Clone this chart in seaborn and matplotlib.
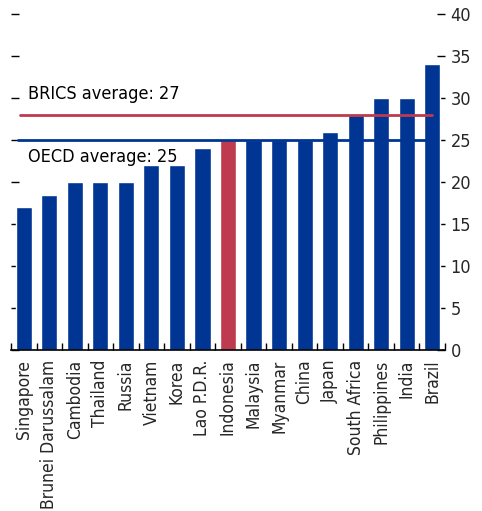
import matplotlib
matplotlib.use("Agg")
import matplotlib.pyplot as plt
import seaborn as sns
import pandas as pd

countries = ["Singapore", "Brunei Darussalam", "Cambodia", "Thailand", "Russia",
             "Vietnam", "Korea", "Lao P.D.R.", "Indonesia", "Malaysia", "Myanmar",
             "China", "Japan", "South Africa", "Philippines", "India", "Brazil"]
rates = [17, 18.5, 20, 20, 20, 22, 22, 24, 25, 25, 25, 25, 26, 28, 30, 30, 34]
highlight = "Indonesia"
brics_avg_line = 28
brics_label = "BRICS average: 27"
oecd_avg_line = 25
oecd_label = "OECD average: 25"
yticks = [0, 5, 10, 15, 20, 25, 30, 35, 40]

sns.set_theme(style="white")
plt.rcParams["font.family"] = ["DejaVu Sans"]
plt.rcParams["font.stretch"] = "condensed"

BLUE = "#003594"
RED = "#BE3A4E"
FS = 13

df = pd.DataFrame({"country": countries, "rate": rates})
palette = {c: (RED if c == highlight else BLUE) for c in countries}

fig = plt.figure(figsize=(4.82, 5.11), dpi=100)
ax = fig.add_axes([11 / 482, 1 - 350 / 511, 434 / 482, 336 / 511])
sns.barplot(data=df, x="country", y="rate", hue="country", palette=palette,
            width=0.63, saturation=1, legend=False, ax=ax)

ax.set_xlim(-0.5, len(countries) - 0.5)
ax.set_ylim(0, 40)
ax.axhline(brics_avg_line, xmin=0.02, xmax=0.97, color=RED, lw=2, zorder=3)
ax.axhline(oecd_avg_line, xmin=0.015, xmax=0.97, color=BLUE, lw=2, zorder=3)
ax.text(0.17, 29.4, brics_label, fontsize=FS, color="black", va="bottom", ha="left")
ax.text(0.17, 24.1, oecd_label, fontsize=FS, color="black", va="top", ha="left")

for s in ["top", "left", "right"]:
    ax.spines[s].set_visible(False)
ax.spines["bottom"].set_color("black")
ax.spines["bottom"].set_linewidth(1.2)

ax.set_xlabel("")
ax.set_ylabel("")
ax.set_xticks(range(len(countries)))
ax.set_xticklabels(countries, rotation=90, fontsize=12.5)
ax.set_xticks([i - 0.5 for i in range(len(countries) + 1)], minor=True)
ax.tick_params(axis="x", which="major", length=0, pad=7)
ax.tick_params(axis="x", which="minor", direction="in", length=5, width=1, color="black", bottom=True)

ax.set_yticks(yticks)
ax.tick_params(axis="y", which="major", direction="in", length=6, width=1, color="black",
               left=True, right=True, labelleft=False, labelright=True, labelsize=FS, pad=4)
ax.grid(False)

fig.savefig("out.png", dpi=100)
